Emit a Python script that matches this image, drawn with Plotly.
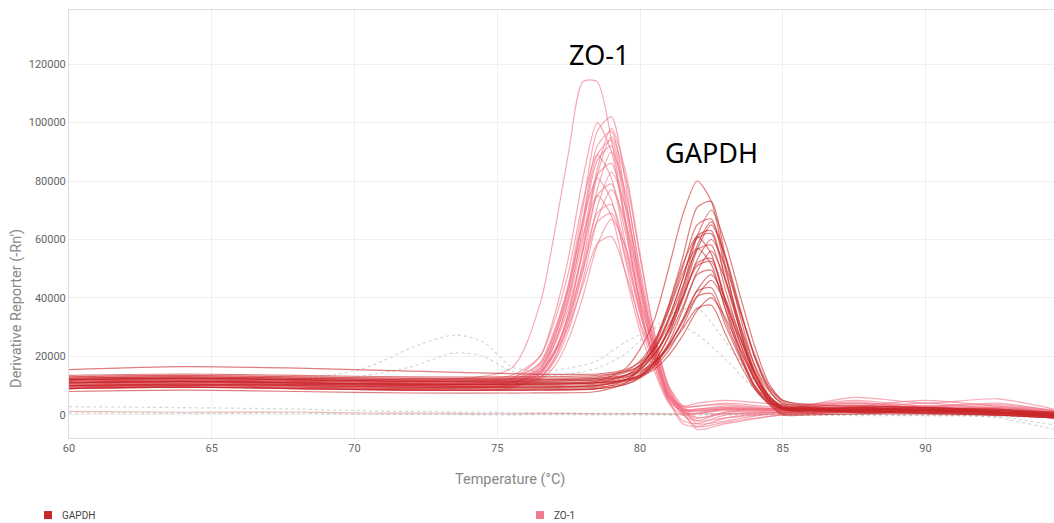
import plotly.graph_objects as go

# ---------------- data ----------------
temp_zo1 = [60, 64, 68, 72, 75.5, 76.5, 77, 77.5, 78, 78.5, 79, 79.5, 80, 80.5,
            81, 81.5, 82, 83, 85, 87.5, 90, 92.5, 94.5]
zo1_curves = [
    [12000, 12500, 12000, 11500, 16000, 38000, 62000, 90000, 114000, 114000, 94000, 66000, 38000, 17000, 5000, 1000, 1500, 2500, 2000, 4000, 3000, 3500, 1500],
    [11000, 11500, 11000, 10500, 11200, 17000, 28000, 45000, 71000, 97000, 102000, 79000, 48000, 24000, 7000, 0, -2000, 1000, 1500, 3000, 2000, 2500, 1000],
    [12000, 12500, 12000, 11500, 12500, 20000, 34000, 54000, 81000, 100000, 90000, 64000, 37000, 19000, 5000, -2000, -3000, 0, 1000, 2000, 4000, 2000, 0],
    [10000, 10500, 10000, 9500, 10200, 15000, 26000, 43000, 67000, 92000, 97000, 74000, 45000, 22000, 6000, 1000, 500, 2000, 2000, 1500, 3000, 1000, 500],
    [11000, 11000, 11500, 11000, 11300, 14000, 21000, 35000, 56000, 82000, 95000, 81000, 54000, 28000, 10000, 3000, -1000, 1000, 2500, 5000, 3000, 4000, 1500],
    [9000, 9500, 9000, 8500, 9200, 14000, 24000, 40000, 64000, 87000, 92000, 70000, 43000, 21000, 5000, -3000, -4000, -1000, 1000, 1000, 1500, 500, -500],
    [13000, 13500, 13000, 12500, 13500, 20000, 32000, 49000, 73000, 89000, 81000, 58000, 35000, 19000, 6000, 3000, 4000, 5000, 3500, 4000, 2500, 3000, 1500],
    [11000, 11500, 10500, 10500, 11000, 16000, 25000, 39000, 60000, 82000, 86000, 66000, 41000, 22000, 7000, 2000, 1000, 2000, 1500, 2500, 1500, 2000, 0],
    [10000, 10000, 10500, 10000, 10200, 13000, 19000, 31000, 49000, 71000, 83000, 71000, 47000, 25000, 9000, 1000, -5000, -3000, 0, 1000, 500, 1000, -1000],
    [12000, 12000, 11500, 11500, 12200, 16000, 24000, 37000, 56000, 75000, 79000, 62000, 39000, 22000, 7000, 2000, 2000, 3000, 2000, 6000, 4000, 5500, 2000],
    [10000, 10500, 10000, 9500, 10300, 16000, 26500, 41000, 61500, 75000, 68000, 48000, 28500, 15000, 4000, 0, 500, 1500, 1000, 2000, 1000, 1500, 0],
    [11000, 11000, 11000, 10500, 11200, 15000, 22000, 34000, 51000, 69000, 72000, 56000, 36000, 20000, 6000, 1500, 1500, 2000, 1500, 1500, 2500, 1500, 500],
    [9500, 9500, 9500, 9000, 9700, 12000, 16500, 26000, 40500, 58000, 67000, 57500, 39000, 21000, 8000, 2000, -2000, -1000, 500, 1000, 500, 500, -500],
    [12000, 12500, 12000, 11500, 12300, 15000, 21000, 30500, 44500, 58500, 61000, 48500, 32000, 19000, 7000, 3000, 3000, 4000, 2500, 3500, 2000, 2500, 1000],
    [10500, 11000, 10500, 10000, 10800, 14000, 21000, 35000, 57500, 84000, 98000, 83000, 55000, 28000, 10000, 2000, -3000, -2000, 1000, 2500, 1500, 2000, 0],
    [12500, 13000, 12500, 12000, 12800, 17500, 27500, 43000, 66000, 89000, 94000, 72500, 45500, 24000, 7000, 2500, 3000, 3500, 2000, 3000, 5000, 3000, 1500],
    [9500, 10000, 9500, 9000, 9800, 13000, 19500, 32500, 52500, 77000, 90000, 76000, 50000, 26000, 9000, 1000, -1000, 500, 1000, 1500, 1000, 1500, -500],
    [11500, 12000, 11500, 11000, 11800, 18000, 29000, 44500, 66500, 81000, 73500, 52500, 31000, 17000, 5000, 1500, 2000, 2500, 2000, 4500, 2000, 2500, 1000],
    [10000, 10500, 10000, 9500, 10200, 12700, 18200, 29000, 46000, 66500, 77000, 65700, 44000, 23600, 8000, 500, -4000, -2500, 0, 1000, 1000, 500, -1000],
    [11000, 11500, 11000, 10500, 11200, 14500, 21600, 32800, 49400, 65900, 69000, 54000, 34600, 19300, 6000, 2000, 1500, 2000, 1500, 2000, 3000, 2000, 500],
]

temp_gapdh = [60, 64, 68, 72, 76, 78.5, 79.5, 80, 80.5, 81, 81.5, 82, 82.5, 83,
              83.5, 84, 84.5, 85, 86, 88, 90, 92.5, 94.5]
gapdh_curves = [
    [12000, 12500, 12000, 11500, 11000, 11500, 16000, 22500, 32500, 50000, 68500, 80000, 73000, 50500, 29000, 13000, 5000, 1500, 1500, 2000, 1500, 1000, 0],
    [11000, 11500, 11000, 10500, 10500, 11000, 13500, 17300, 25000, 37500, 54000, 71000, 73000, 53500, 34000, 17000, 7000, 2500, 1500, 1000, 1500, 500, -500],
    [10000, 10000, 10500, 10000, 9500, 10000, 12000, 14000, 19500, 29000, 43500, 61000, 70000, 58500, 41000, 24000, 11000, 5000, 3000, 2500, 1500, 1000, 0],
    [13000, 13500, 13000, 12500, 12500, 13000, 15000, 18500, 25000, 36000, 50500, 65000, 67000, 49000, 31000, 15500, 6500, 2500, 2000, 1500, 2000, 1000, 0],
    [9000, 9500, 9000, 8500, 8500, 9000, 10500, 13000, 18000, 27000, 40500, 56500, 65000, 53500, 36000, 20000, 9500, 4500, 2500, 500, 1000, 0, -1000],
    [11500, 12000, 11500, 11000, 11000, 11500, 13500, 16500, 23000, 33000, 46500, 60500, 62000, 45500, 29000, 14500, 6000, 2500, 2000, 2500, 1500, 2000, 500],
    [8000, 8500, 8000, 7500, 7500, 8000, 11000, 16000, 24000, 37000, 51500, 61000, 55000, 38000, 22000, 10000, 4000, 500, 500, 1000, 500, 0, -1000],
    [12500, 13000, 12500, 12000, 12000, 12500, 14500, 17000, 22500, 32000, 44000, 56500, 58000, 42500, 27000, 14000, 5500, 2000, 1500, 3000, 2500, 1500, 500],
    [10000, 10500, 10000, 9500, 9500, 10000, 11500, 13000, 17500, 24500, 36000, 49000, 56000, 46000, 31000, 17500, 8500, 4000, 2500, 1000, 1500, 500, -500],
    [15500, 16500, 16000, 15000, 14000, 14000, 15500, 18000, 22500, 30500, 40500, 51000, 52500, 38500, 24500, 12500, 5000, 2500, 2500, 2000, 2500, 1500, 1000],
    [9500, 10000, 9500, 9000, 9000, 9500, 11000, 13500, 18500, 26500, 37000, 48000, 49500, 36000, 23000, 12000, 5000, 2000, 1000, 1500, 1000, 500, -500],
    [11000, 11500, 11000, 10500, 10500, 11000, 12000, 13500, 16500, 22000, 30500, 40500, 46000, 38000, 26000, 14500, 6500, 3000, 2000, 1500, 2000, 1000, 0],
    [10500, 11000, 10500, 10000, 10000, 10500, 12000, 13500, 17500, 23500, 32000, 40500, 41500, 30500, 19500, 10000, 4500, 2000, 1500, 1000, 1500, 1000, 0],
    [12000, 12500, 12000, 11500, 11500, 12000, 13000, 14500, 17500, 23000, 29500, 36500, 37500, 27500, 17500, 9000, 4000, 2000, 2000, 2500, 2000, 1500, 500],
    [12000, 12500, 12000, 11500, 11500, 12000, 13600, 15800, 20600, 29300, 42200, 57900, 66000, 54300, 36700, 20500, 8800, 3600, 2000, 2000, 1500, 1000, 0],
    [10000, 10500, 10000, 9500, 9500, 10000, 12200, 15400, 21900, 32700, 46700, 61300, 63000, 46400, 29400, 14900, 6000, 2500, 1500, 1500, 1000, 500, -500],
    [13500, 14000, 13500, 13000, 13000, 13500, 14900, 16800, 21000, 28400, 39500, 53000, 60000, 50500, 35500, 21000, 10000, 5000, 3500, 3000, 2500, 2000, 1000],
    [9000, 9500, 9000, 8500, 8500, 9000, 11900, 16200, 23400, 35400, 48400, 57000, 51400, 35700, 20600, 9400, 3800, 0, 0, 500, 1000, 0, -1000],
    [11000, 11500, 11000, 10500, 10500, 11000, 12700, 15300, 20500, 29100, 40200, 51900, 53500, 39200, 24900, 12700, 5200, 2000, 1500, 2000, 1500, 1000, 0],
    [12500, 13000, 12500, 12000, 12000, 12500, 13600, 15000, 18200, 23900, 32400, 42700, 48000, 39500, 26900, 15100, 6600, 3000, 2500, 2000, 2500, 1500, 500],
    [9000, 9500, 9000, 8500, 8500, 9000, 10400, 12500, 16700, 23700, 32800, 42300, 43500, 32000, 20400, 10500, 4500, 1000, 1000, 1000, 500, 0, -1000],
    [11000, 11500, 11000, 10500, 10500, 11000, 11900, 13000, 15600, 20300, 27200, 35700, 40000, 33000, 22500, 12700, 5700, 2500, 2000, 1500, 2000, 1000, 0],
]

temp_ctrl = [60, 64, 68, 70, 71, 72, 73.5, 74.5, 75.5, 76.5, 77.5, 78.5, 79.5,
             80.5, 81.3, 82, 83, 84, 85, 87, 90, 92.5, 94.5]
ctrl_curves = [
    [12000, 12500, 12500, 15000, 18500, 23000, 27300, 25000, 16500, 15000, 16000, 18500, 25000, 29500, 31000, 27500, 19000, 9000, 3500, 1500, 1000, -500, -3500],
    [11500, 12000, 12000, 13000, 14500, 16500, 21200, 20000, 15000, 13500, 14000, 16000, 21000, 30000, 35500, 36500, 25000, 12000, 4000, 1500, 500, -1000, -5000],
    [2800, 2500, 2000, 1500, 1300, 1200, 1000, 900, 800, 700, 600, 500, 500, 500, 400, 400, 300, 300, 200, 100, 0, -300, -800],
    [700, 500, 600, 300, 200, 200, 100, 0, 0, 100, 100, 0, 0, 0, -100, 0, 0, 0, -100, -200, -300, -500, -1000],
]
ntc_gapdh = [1200, 900, 1000, 700, 600, 600, 500, 400, 400, 500, 500, 400, 400, 400, 300, 400, 400, 400, 300, 200, 100, -100, -500]

series_names = ["GAPDH", "ZO-1"]
x_ticks = [60, 65, 70, 75, 80, 85, 90]
y_ticks = [0, 20000, 40000, 60000, 80000, 100000, 120000]

# ---------------- styles ----------------
C_GAPDH = "rgba(200,38,40,0.6)"
C_ZO1 = "rgba(242,112,132,0.6)"
C_CTRL = "rgba(170,185,180,0.55)"
LEG_COLORS = ["#c62828", "#f07b8e"]

fig = go.Figure()

for ys in ctrl_curves:
    fig.add_trace(go.Scatter(x=temp_ctrl, y=ys, mode="lines", showlegend=False,
                             hoverinfo="skip",
                             line=dict(color=C_CTRL, width=1.2, dash="dot",
                                       shape="spline", smoothing=0.8)))
fig.add_trace(go.Scatter(x=temp_ctrl, y=ntc_gapdh, mode="lines", showlegend=False,
                         hoverinfo="skip",
                         line=dict(color="rgba(200,60,60,0.35)", width=1.2,
                                   shape="spline", smoothing=0.8)))

for ys in zo1_curves:
    fig.add_trace(go.Scatter(x=temp_zo1, y=ys, mode="lines", showlegend=False,
                             hoverinfo="skip",
                             line=dict(color=C_ZO1, width=1.2, shape="spline",
                                       smoothing=0.7)))
for ys in gapdh_curves:
    fig.add_trace(go.Scatter(x=temp_gapdh, y=ys, mode="lines", showlegend=False,
                             hoverinfo="skip",
                             line=dict(color=C_GAPDH, width=1.2, shape="spline",
                                       smoothing=0.7)))

# legend drawn as square swatches + labels below the chart
legend_x_sq = [-0.0213, 0.4782]   # swatch centres (paper)
legend_x_tx = [-0.0091, 0.4904]   # label left edges (paper)
legend_y = -0.180
shapes = []
annotations = []
for name, col, xs, xt in zip(series_names, LEG_COLORS, legend_x_sq, legend_x_tx):
    shapes.append(dict(type="rect", xref="paper", yref="paper",
                       xsizemode="pixel", ysizemode="pixel",
                       xanchor=xs, yanchor=legend_y, x0=-4, x1=4, y0=-4, y1=4,
                       fillcolor=col, line=dict(width=0)))
    annotations.append(dict(text=name, xref="paper", yref="paper", x=xt,
                            y=legend_y, xanchor="left", yanchor="middle",
                            showarrow=False, font=dict(size=10, color="#444")))

annotations += [
    dict(text="Temperature (°C)", xref="paper", yref="paper",
         x=0.448, y=-0.098, xanchor="center", yanchor="middle",
         showarrow=False, font=dict(size=14.5, color="#888")),
    dict(text="Derivative Reporter (-Rn')", xref="paper", yref="paper",
         x=-0.0528, y=0.304, xanchor="center", yanchor="middle",
         textangle=-90, showarrow=False, font=dict(size=14.5, color="#888")),
    dict(text="ZO-1", xref="paper", yref="paper", x=0.538, y=0.895,
         xanchor="center", yanchor="middle", showarrow=False,
         font=dict(family="Noto Sans", size=27, color="black")),
    dict(text="GAPDH", xref="paper", yref="paper", x=0.652, y=0.666,
         xanchor="center", yanchor="middle", showarrow=False,
         font=dict(family="Noto Sans", size=27, color="black")),
]

fig.update_layout(
    width=1054, height=523,
    margin=dict(l=69, r=0, t=10, b=85, autoexpand=False),
    paper_bgcolor="white", plot_bgcolor="white",
    font=dict(family="Roboto, Arial, sans-serif", color="#555"),
    showlegend=False,
    xaxis=dict(range=[60, 94.5], tickvals=x_ticks, showgrid=True,
               gridcolor="#efefef", showline=True, linecolor="#dedede",
               mirror=True, zeroline=False, ticks="",
               tickfont=dict(size=11, color="#666")),
    yaxis=dict(range=[-7900, 138500], tickvals=y_ticks, tickformat="d",
               showgrid=True, gridcolor="#efefef", showline=True,
               linecolor="#dedede", mirror=True, zeroline=False, ticks="",
               tickfont=dict(size=11, color="#666")),
    shapes=shapes,
    annotations=annotations,
)

fig.write_html("out.html")
